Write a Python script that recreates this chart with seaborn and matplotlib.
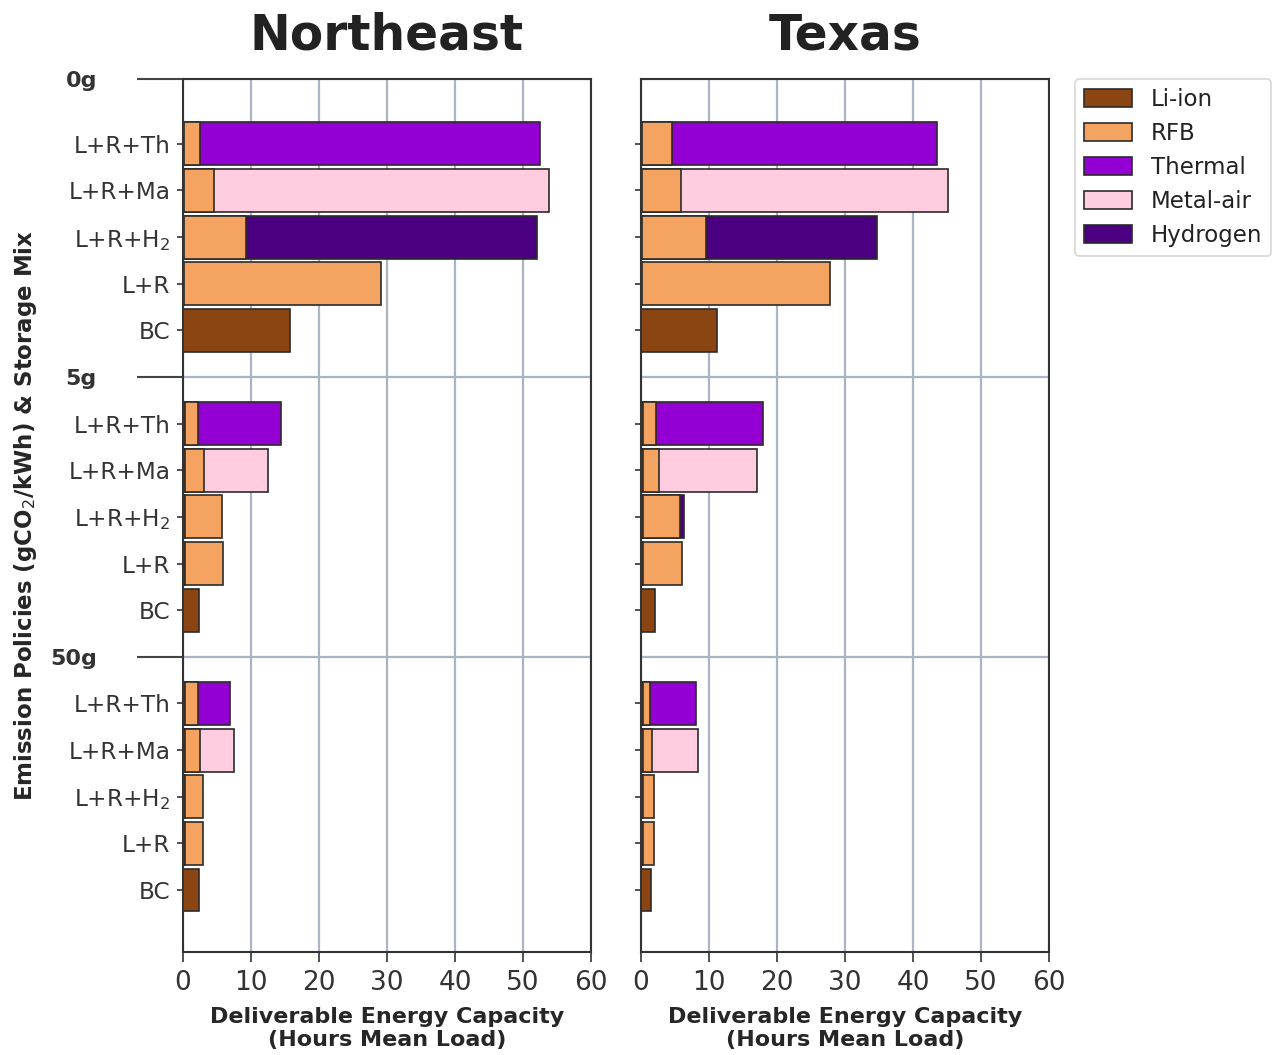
import matplotlib
matplotlib.use("Agg")
import matplotlib.pyplot as plt
import seaborn as sns
import pandas as pd

regions = ["Northeast", "Texas"]
policies = ["0g", "5g", "50g"]
mixes = ["L+R+Th", "L+R+Ma", "L+R+H$_2$", "L+R", "BC"]
techs = ["Li-ion", "RFB", "Thermal", "Metal-air", "Hydrogen"]
tech_colors = ["#8B4513", "#F4A460", "#9400D3", "#FFCCE0", "#4B0082"]

# Deliverable energy capacity (hours of mean load) per technology.
# Rows: 0g (Th, Ma, H2, L+R, BC), 5g (...), 50g (...)
ne_liion = [0.1, 0.1, 0.1, 0.1, 15.7, 0.3, 0.3, 0.3, 0.3, 2.3, 0.3, 0.3, 0.3, 0.3, 2.3]
ne_rfb = [2.4, 4.5, 9.2, 29.0, 0.0, 1.9, 2.8, 5.4, 5.6, 0.0, 1.9, 2.2, 2.6, 2.7, 0.0]
ne_thermal = [50.0, 0, 0, 0, 0, 12.2, 0, 0, 0, 0, 4.7, 0, 0, 0, 0]
ne_metalair = [0, 49.2, 0, 0, 0, 0, 9.4, 0, 0, 0, 0, 5.0, 0, 0, 0]
ne_hydrogen = [0, 0, 42.8, 0, 0, 0, 0, 0, 0, 0, 0, 0, 0, 0, 0]

tx_liion = [0.1, 0.1, 0.1, 0.1, 11.2, 0.3, 0.3, 0.3, 0.3, 2.1, 0.3, 0.3, 0.3, 0.3, 1.5]
tx_rfb = [4.5, 5.8, 9.5, 27.7, 0.0, 1.9, 2.3, 5.4, 5.7, 0.0, 1.0, 1.3, 1.6, 1.6, 0.0]
tx_thermal = [38.9, 0, 0, 0, 0, 15.7, 0, 0, 0, 0, 6.8, 0, 0, 0, 0]
tx_metalair = [0, 39.2, 0, 0, 0, 0, 14.5, 0, 0, 0, 0, 6.8, 0, 0, 0]
tx_hydrogen = [0, 0, 25.1, 0, 0, 0, 0, 0.6, 0, 0, 0, 0, 0, 0, 0]

region_values = {
    "Northeast": [ne_liion, ne_rfb, ne_thermal, ne_metalair, ne_hydrogen],
    "Texas": [tx_liion, tx_rfb, tx_thermal, tx_metalair, tx_hydrogen],
}

# Category slots: five mixes per policy with an empty slot between policies
order = []
row_keys = []
for p_i, pol in enumerate(policies):
    for mix in mixes:
        key = f"{pol} | {mix}"
        order.append(key)
        row_keys.append(key)
    if p_i < len(policies) - 1:
        order.append(f"gap{p_i}")

records = []
for region, comps in region_values.items():
    for r, key in enumerate(row_keys):
        running = 0.0
        for tech, vals in zip(techs, comps):
            v = vals[r]
            running += v
            records.append(dict(region=region, key=key, tech=tech,
                                value=v, cum=running))
df = pd.DataFrame(records)

sns.set_theme(style="whitegrid", rc={
    "grid.color": "#aab4c2",
    "grid.linewidth": 1.6,
    "axes.edgecolor": "#333333",
    "axes.linewidth": 1.5,
    "text.color": "#222222",
    "xtick.color": "#333333",
    "ytick.color": "#333333",
})
plt.rcParams["font.family"] = ["DejaVu Sans"]

fig, axes = plt.subplots(1, 2, figsize=(12.73, 10.55), dpi=100)
fig.subplots_adjust(left=0.1438, right=0.8240, top=0.9251, bottom=0.0976,
                    wspace=0.1225)

edge = "#2b2b2b"
for ax_i, (ax, region) in enumerate(zip(axes, regions)):
    sub_r = df[df.region == region]
    # draw the longest cumulative segments first so shorter ones sit on top
    for tech, color in reversed(list(zip(techs, tech_colors))):
        sub = sub_r[(sub_r.tech == tech) & (sub_r.value > 0)]
        if sub.empty:
            continue
        sns.barplot(data=sub, x="cum", y="key", order=order, orient="h",
                    color=color, saturation=1, width=0.92, errorbar=None,
                    edgecolor=edge, linewidth=1.2,
                    label=tech if ax_i == 0 else None, ax=ax)

    ax.set_xlim(0, 60)
    ax.set_xticks(range(0, 61, 10))
    ax.set_ylim(17.33, -1.39)
    ax.set_yticks([-1.39, 5, 11])
    ax.set_yticks([i for i, k in enumerate(order) if not k.startswith("gap")],
                  minor=True)
    ax.grid(True, axis="x", which="major")
    ax.grid(True, axis="y", which="major")
    ax.grid(False, which="minor")
    ax.set_axisbelow(True)
    for s in ax.spines.values():
        s.set_visible(True)
        s.set_color("#333333")
        s.set_linewidth(1.5)

    ax.tick_params(axis="x", which="major", bottom=True, length=7, width=1.2,
                   labelsize=19, pad=6)
    ax.tick_params(axis="y", which="minor", left=True, length=4, width=1.2,
                   labelsize=16.7, pad=5)
    ax.set_xlabel("Deliverable Energy Capacity\n(Hours Mean Load)",
                  fontsize=16, fontweight="bold", labelpad=8,
                  linespacing=1.15)
    ax.set_title(region, fontsize=35, fontweight="bold", pad=21)

    if ax_i == 0:
        ax.set_yticklabels(policies, fontsize=16, fontweight="bold")
        ax.set_yticklabels(mixes * 3, minor=True)
        ax.tick_params(axis="y", which="major", left=True, length=33,
                       width=1.5, color="#444444", pad=29)
        ax.set_ylabel("Emission Policies (gCO$_2$/kWh) & Storage Mix",
                      fontsize=16.5, fontweight="bold", labelpad=8)
    else:
        ax.set_yticklabels([])
        ax.set_yticklabels([], minor=True)
        ax.tick_params(axis="y", which="major", left=False, length=0)
        ax.set_ylabel("")

handles, labels = axes[0].get_legend_handles_labels()
lookup = dict(zip(labels, handles))
auto_leg = axes[0].get_legend()
if auto_leg is not None:
    auto_leg.remove()
leg = axes[1].legend([lookup[t] for t in techs], techs, loc="upper left",
                     bbox_to_anchor=(1.064, 1.0), borderaxespad=0,
                     fontsize=16.5, handlelength=2.1, handleheight=0.8,
                     labelspacing=0.48, frameon=True, fancybox=True)
leg.get_frame().set_edgecolor("#cccccc")
leg.get_frame().set_linewidth(1.2)

fig.savefig("out.png", dpi=100)
